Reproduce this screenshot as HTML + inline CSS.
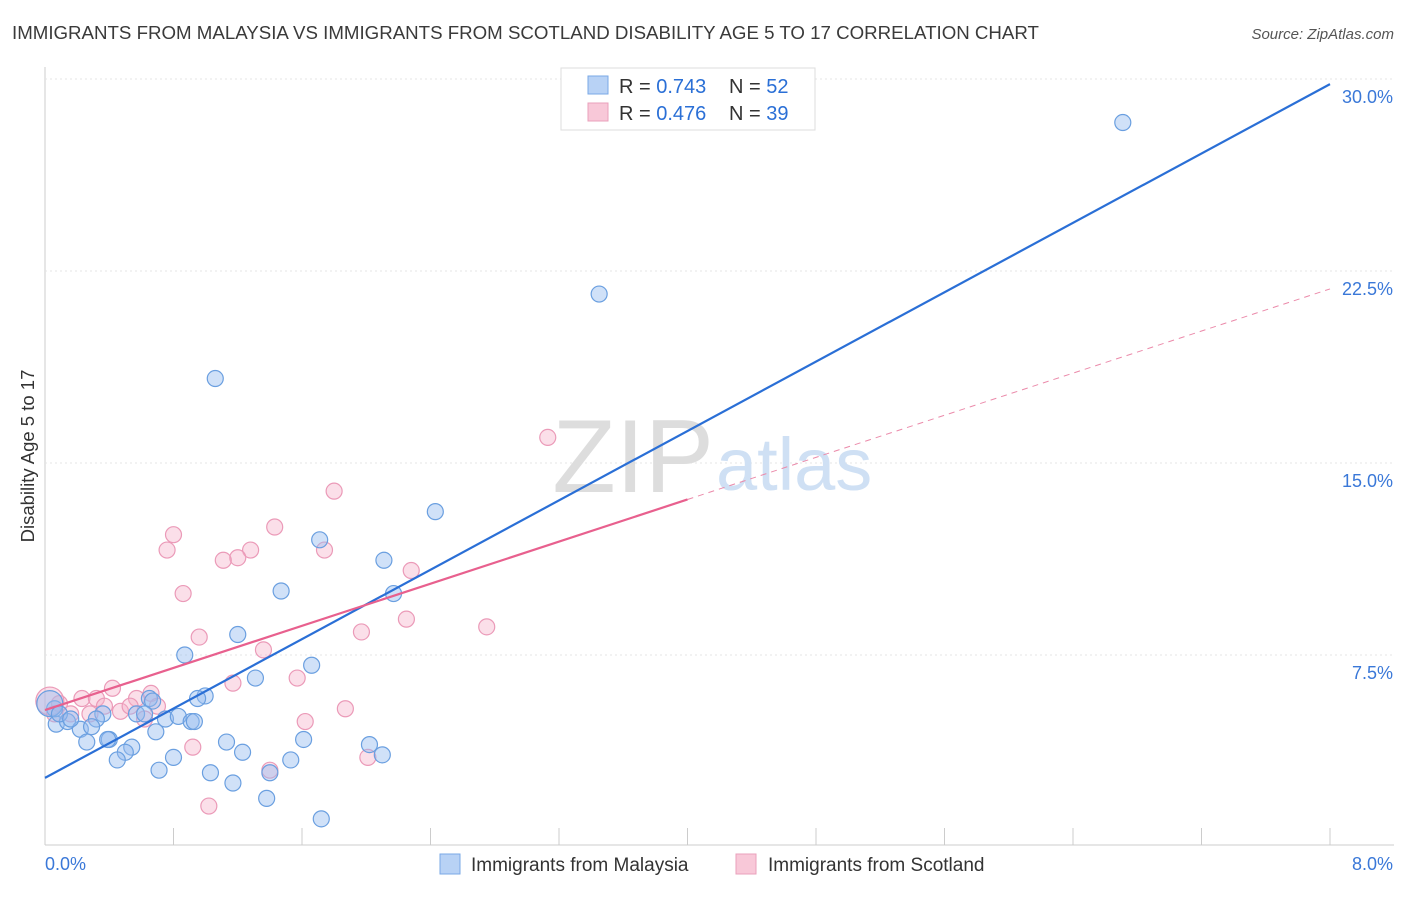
<!DOCTYPE html>
<html><head><meta charset="utf-8"><style>
body{margin:0;background:#fff;font-family:"Liberation Sans",sans-serif;}
svg text{font-family:"Liberation Sans",sans-serif;}
</style></head><body>
<svg id="c" width="1406" height="892">
<text x="12" y="39" font-size="18.7" fill="#3a3a3a">IMMIGRANTS FROM MALAYSIA VS IMMIGRANTS FROM SCOTLAND DISABILITY AGE 5 TO 17 CORRELATION CHART</text>
<text x="1394" y="39" font-size="15" fill="#555" font-style="italic" text-anchor="end">Source: ZipAtlas.com</text>
<text x="34" y="456" font-size="18.5" fill="#333" text-anchor="middle" transform="rotate(-90 34 456)">Disability Age 5 to 17</text>
<g id="grid"></g>
<text x="714" y="492" font-size="104" fill="#ddd" font-family="Liberation Serif" text-anchor="end">ZIP</text>
<text x="716" y="490" font-size="74" fill="#cfe0f4">atlas</text>
<g id="pts"></g>
<g id="lines"></g>
<g>
<rect x="561" y="68" width="254" height="62" fill="#fff" stroke="#ddd"/>
<rect x="588" y="76" width="20" height="18" fill="#b8d2f5" stroke="#7aa8e6"/>
<text x="619" y="93" font-size="20" fill="#333">R = <tspan fill="#2a6fd6">0.743</tspan></text>
<text x="729" y="93" font-size="20" fill="#333">N = <tspan fill="#2a6fd6">52</tspan></text>
<rect x="588" y="103" width="20" height="18" fill="#f8c8d8" stroke="#eaa0bb"/>
<text x="619" y="120" font-size="20" fill="#333">R = <tspan fill="#2a6fd6">0.476</tspan></text>
<text x="729" y="120" font-size="20" fill="#333">N = <tspan fill="#2a6fd6">39</tspan></text>
</g>
<g>
<rect x="440" y="854" width="20" height="20" fill="#b8d2f5" stroke="#7aa8e6"/>
<text x="471" y="871" font-size="19" fill="#333">Immigrants from Malaysia</text>
<rect x="736" y="854" width="20" height="20" fill="#f8c8d8" stroke="#eaa0bb"/>
<text x="768" y="871" font-size="19" fill="#333">Immigrants from Scotland</text>
</g>
</svg>
<script>
const xTicks=[0,0.8,1.6,2.4,3.2,4.0,4.8,5.6,6.4,7.2,8.0];
const yTicks=[7.5,15,22.5,30];
const yTickLabels=["7.5%","15.0%","22.5%","30.0%"];
const blueX=[6.71,3.45,1.06,2.43,1.71,2.11,1.47,2.17,1.20,0.87,1.66,1.31,0.997,0.95,0.65,0.67,0.57,0.75,0.83,0.91,0.93,0.36,0.32,0.07,0.14,0.22,0.29,0.69,0.26,0.40,0.54,1.13,1.23,1.61,2.02,0.80,0.50,0.45,2.10,1.53,0.71,1.03,1.17,1.40,1.38,1.72,0.06,0.03,0.09,0.39,0.62,0.16];
const blueY=[28.3,21.6,18.3,13.1,12.0,11.2,10.0,9.9,8.3,7.5,7.1,6.6,5.9,5.8,5.8,5.7,5.2,5.0,5.1,4.9,4.9,5.2,5.0,4.8,4.9,4.6,4.7,4.5,4.1,4.2,3.9,4.1,3.7,4.2,4.0,3.5,3.7,3.4,3.6,3.4,3.0,2.9,2.5,2.9,1.9,1.1,5.4,5.6,5.2,4.2,5.2,5.0];
const pinkX=[3.13,1.80,1.43,0.80,0.76,1.28,1.20,1.11,1.74,2.28,0.86,2.25,2.75,1.97,0.96,1.36,1.57,1.17,0.42,0.66,0.23,0.32,0.57,0.37,0.09,0.47,0.62,0.70,1.62,1.87,0.92,1.40,2.01,1.02,0.03,0.16,0.53,0.28,0.06];
const pinkY=[16.0,13.9,12.5,12.2,11.6,11.6,11.3,11.2,11.6,10.8,9.9,8.9,8.6,8.4,8.2,7.7,6.6,6.4,6.2,6.0,5.8,5.8,5.8,5.5,5.6,5.3,5.0,5.5,4.9,5.4,3.9,3.0,3.5,1.6,5.7,5.2,5.5,5.2,5.2];
const blueFit=[2.7,29.8];
const pinkFit=[5.35,21.8];
const NS="http://www.w3.org/2000/svg";
const X0=45,X1=1330,Y0=847,YPX=25.6;
const sx=v=>X0+(v/8)*(X1-X0);
const sy=v=>Y0-v*YPX;
function mk(tag,attrs,parent){const e=document.createElementNS(NS,tag);for(const k in attrs)e.setAttribute(k,attrs[k]);parent.appendChild(e);return e;}
const grid=document.getElementById('grid');
mk('line',{x1:45,y1:67,x2:45,y2:845,stroke:'#ccc'},grid);
mk('line',{x1:45,y1:845,x2:1394,y2:845,stroke:'#ccc'},grid);
mk('line',{x1:45,y1:sy(30),x2:1394,y2:sy(30),stroke:'#ddd','stroke-dasharray':'2,3'},grid);
yTicks.forEach((t,i)=>{
 const l=mk('line',{x1:45,y1:sy(t),x2:1394,y2:sy(t),stroke:'#e4e4e4','stroke-dasharray':'2,3'},grid);
 
 
 const tx=mk('text',{x:1393,y:sy(t)+24,'font-size':18,fill:'#3a78d8','text-anchor':'end'},grid);
 tx.textContent=yTickLabels[i];
 
 
});
xTicks.forEach(t=>{
 const l=mk('line',{x1:sx(t),y1:828,x2:sx(t),y2:845,stroke:'#ccc'},grid);
 
 
});
const xl0=mk('text',{x:45,y:870,'font-size':18,fill:'#3a78d8'},grid);xl0.textContent='0.0%';


const xl1=mk('text',{x:1393,y:870,'font-size':18,fill:'#3a78d8','text-anchor':'end'},grid);xl1.textContent='8.0%';


const pts=document.getElementById('pts');
pinkX.forEach((x,i)=>{
 const c=mk('circle',{cx:sx(x),cy:sy(pinkY[i]),r:i==34?14:8,fill:'rgba(246,176,200,0.4)',stroke:'#eb9ab8','stroke-width':1.2},pts);
 
 
});
blueX.forEach((x,i)=>{
 const c=mk('circle',{cx:sx(x),cy:sy(blueY[i]),r:i==47?13:8,fill:'rgba(150,188,240,0.45)',stroke:'#6a9fe0','stroke-width':1.2},pts);
 
 
});
const lines=document.getElementById('lines');
const bl=mk('line',{x1:sx(0),y1:sy(blueFit[0]),x2:sx(8),y2:sy(blueFit[1]),stroke:'#2a6fd6','stroke-width':2.2},lines);


const pm=v=>pinkFit[0]+(pinkFit[1]-pinkFit[0])*v/8;
const pl=mk('line',{x1:sx(0),y1:sy(pm(0)),x2:sx(4),y2:sy(pm(4)),stroke:'#e8608e','stroke-width':2.2},lines);


const pd=mk('line',{x1:sx(4),y1:sy(pm(4)),x2:sx(8),y2:sy(pm(8)),stroke:'#eb8aaa','stroke-width':1,'stroke-dasharray':'6,5'},lines);


</script>
</body></html>
